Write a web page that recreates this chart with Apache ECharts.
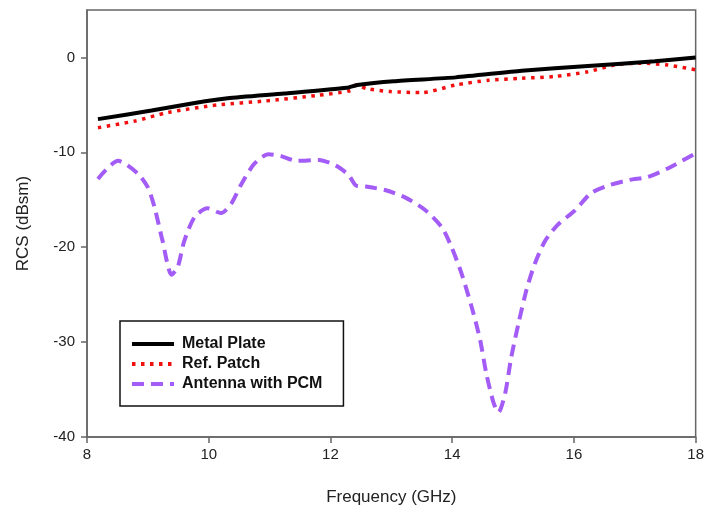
<!DOCTYPE html>
<html>
<head>
<meta charset="utf-8">
<script src="https://cdn.jsdelivr.net/npm/echarts@6/dist/echarts.min.js"></script>
<style>html,body{margin:0;padding:0;background:#fff}#c{width:707px;height:514px}</style>
</head>
<body>
<div id="c"></div>
<script>
var xTicks = [8, 10, 12, 14, 16, 18];
var yTicks = [-40, -30, -20, -10, 0];

var metalFreq = [8.18, 9.06, 9.77, 10.31, 11.24, 12.27, 12.44, 13.04, 14.06, 15.14, 16.23, 17.33, 18.0];
var metalRcs  = [-6.5, -5.6, -4.8, -4.3, -3.8, -3.2, -2.9, -2.5, -2.1, -1.4, -0.9, -0.4, 0.0];

var patchFreq = [8.18, 8.79, 9.33, 10.15, 10.91, 11.78, 12.33, 12.42, 12.6, 12.99, 13.5, 14.06, 14.6, 15.14, 15.69, 16.23, 16.67, 17.1, 17.54, 18.0];
var patchRcs  = [-7.4, -6.7, -5.8, -5.0, -4.6, -4.0, -3.5, -2.9, -3.3, -3.6, -3.7, -2.9, -2.4, -2.2, -2.0, -1.5, -0.8, -0.6, -0.8, -1.3];

var pcmFreq = [8.18, 8.51, 8.83, 9.0, 9.11, 9.24, 9.39, 9.49, 9.6, 9.77, 9.98, 10.2, 10.37, 10.54, 10.75, 10.98, 11.19, 11.44, 11.81, 12.09, 12.3, 12.42, 12.58, 12.91, 13.24, 13.56, 13.83, 13.99, 14.15, 14.32, 14.46, 14.56, 14.68, 14.76, 14.87, 14.97, 15.09, 15.22, 15.36, 15.53, 15.74, 16.02, 16.28, 16.56, 16.92, 17.21, 17.54, 18.0];
var pcmRcs  = [-12.8, -10.9, -12.2, -13.7, -15.8, -19.3, -22.9, -22.1, -19.3, -16.8, -15.9, -16.4, -15.4, -13.3, -11.2, -10.2, -10.4, -10.9, -10.8, -11.4, -12.4, -13.5, -13.6, -14.0, -14.8, -16.1, -17.9, -20.0, -22.7, -26.3, -29.8, -33.3, -36.4, -37.4, -35.4, -31.6, -28.0, -24.5, -21.7, -19.3, -17.6, -16.1, -14.3, -13.5, -12.9, -12.6, -11.7, -10.1];

function pairs(xs, ys) { return xs.map(function (x, i) { return [x, ys[i]]; }); }

var chart = echarts.init(document.getElementById('c'), null, {renderer: 'canvas'});
var axisColor = '#666';
chart.setOption({
  animation: false,
  backgroundColor: '#fff',
  grid: {left: 87, top: 10, right: 9, bottom: 77, show: true, borderColor: axisColor, borderWidth: 1.5, backgroundColor: 'transparent'},
  xAxis: {
    type: 'value', min: xTicks[0], max: xTicks[xTicks.length - 1], interval: 2,
    name: 'Frequency (GHz)', nameLocation: 'middle', nameGap: 52,
    nameTextStyle: {fontFamily: 'Liberation Sans, Arial', fontSize: 17, color: '#222'},
    axisLine: {onZero: false, lineStyle: {color: axisColor, width: 1.5}},
    axisTick: {show: true, length: 6, lineStyle: {color: axisColor, width: 1.5}},
    axisLabel: {fontFamily: 'Liberation Sans, Arial', fontSize: 15, color: '#222', margin: 10},
    splitLine: {show: false}
  },
  yAxis: {
    type: 'value', min: yTicks[0], max: 5, interval: 10,
    name: 'RCS (dBsm)', nameLocation: 'middle', nameGap: 55, nameRotate: 90,
    nameTextStyle: {fontFamily: 'Liberation Sans, Arial', fontSize: 17, color: '#222'},
    axisLine: {onZero: false, lineStyle: {color: axisColor, width: 1.5}},
    axisTick: {show: true, length: 6, lineStyle: {color: axisColor, width: 1.5}},
    axisLabel: {fontFamily: 'Liberation Sans, Arial', fontSize: 15, color: '#222', margin: 12, showMaxLabel: false},
    splitLine: {show: false}
  },
  legend: {
    left: 120, top: 321, orient: 'vertical',
    padding: [15, 21, 14, 10], itemGap: 4,
    itemWidth: 42, itemHeight: 14,
    borderColor: '#111', borderWidth: 1.5, backgroundColor: '#fff',
    itemStyle: {opacity: 0},
    lineStyle: {width: 4},
    textStyle: {fontFamily: 'Liberation Sans, Arial', fontSize: 16, fontWeight: 'bold', color: '#111', padding: [0, 0, 0, 3]},
    data: ['Metal Plate', 'Ref. Patch', 'Antenna with PCM']
  },
  series: [
    {name: 'Antenna with PCM', type: 'line', data: pairs(pcmFreq, pcmRcs), symbol: 'none', smooth: 0.25, z: 2,
     itemStyle: {color: '#a35cf5'},
     lineStyle: {color: '#a35cf5', width: 4, type: [12, 7]}},
    {name: 'Ref. Patch', type: 'line', data: pairs(patchFreq, patchRcs), symbol: 'none', smooth: 0.25, z: 3,
     itemStyle: {color: '#f01010'},
     lineStyle: {color: '#f01010', width: 3.5, type: [3.5, 5.5]}},
    {name: 'Metal Plate', type: 'line', data: pairs(metalFreq, metalRcs), symbol: 'none', smooth: 0.2, z: 4,
     itemStyle: {color: '#000'},
     lineStyle: {color: '#000', width: 4}}
  ]
});
</script>
</body>
</html>
